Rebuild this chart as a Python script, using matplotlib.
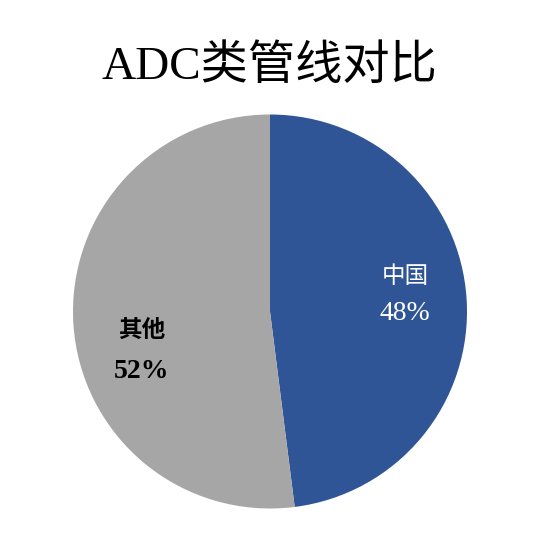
import matplotlib.pyplot as plt

labels = ['中国', '其他']
shares = [48, 52]
colors = ['#2F5597', '#A6A6A6']

fonts = ['Liberation Serif', 'Noto Sans CJK SC']

fig = plt.figure(figsize=(5.5, 5.34), dpi=100)
W, H = 550, 534
cx, cy, r = 270, 311.5, 197
ax = fig.add_axes([(cx - r) / W, (H - cy - r) / H, 2 * r / W, 2 * r / H])

wedges, _ = ax.pie(shares, colors=colors, startangle=90, counterclock=False,
                   radius=1, wedgeprops=dict(linewidth=0))
ax.set_xlim(-1, 1)
ax.set_ylim(-1, 1)
ax.set_aspect('auto')
ax.axis('off')

# label positions (name, percent) in axes coords
pos = [(0.843, 0.588, 0.496), (0.175, 0.45, 0.347)]
tcol = ['white', 'black']
weights = ['normal', 'bold']
for lab, val, (x, y1, y2), c, w in zip(labels, shares, pos, tcol, weights):
    ax.text(x, y1, lab, transform=ax.transAxes, ha='center', va='center',
            fontsize=17, color=c, fontweight=w, family=fonts)
    ax.text(x, y2, f'{val}%', transform=ax.transAxes, ha='center', va='center',
            fontsize=20, color=c, fontweight=w, family=fonts)

fig.text(0.49, 1 - 67 / H, 'ADC类管线对比', ha='center', va='center',
         fontsize=34, family=fonts)

fig.savefig('out.png', dpi=100)
